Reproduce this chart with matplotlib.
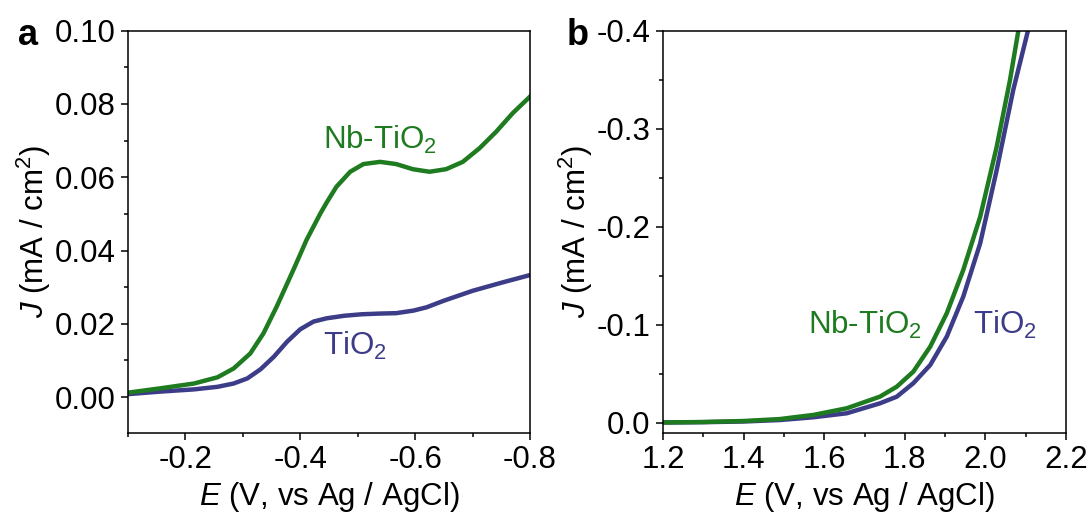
import matplotlib
matplotlib.use('Agg')
import matplotlib.pyplot as plt
from matplotlib.ticker import MultipleLocator, FormatStrFormatter

plt.rcParams['font.family'] = ['Liberation Sans', 'DejaVu Sans']
plt.rcParams['mathtext.fontset'] = 'custom'
plt.rcParams['mathtext.rm'] = 'Liberation Sans'
plt.rcParams['mathtext.it'] = 'Liberation Sans:italic'

GREEN = '#1e7b20'
NAVY = '#3c3c88'

# panel a: potential (V vs Ag/AgCl) and current density (mA/cm2)
a_E_nb = [-0.100, -0.157, -0.215, -0.256, -0.284, -0.313, -0.336, -0.359, -0.388,
          -0.411, -0.435, -0.446, -0.463, -0.487, -0.510, -0.539, -0.567, -0.596,
          -0.625, -0.654, -0.683, -0.712, -0.741, -0.770, -0.800]
a_J_nb = [0.0012, 0.0024, 0.0037, 0.0054, 0.0078, 0.0119, 0.0174, 0.0247, 0.0347,
          0.0429, 0.0501, 0.0531, 0.0574, 0.0615, 0.0636, 0.0642, 0.0636, 0.0622,
          0.0615, 0.0622, 0.0642, 0.0679, 0.0724, 0.0775, 0.0820]
a_E_ti = [-0.100, -0.157, -0.215, -0.256, -0.284, -0.308, -0.331, -0.354, -0.377,
          -0.400, -0.423, -0.446, -0.477, -0.507, -0.540, -0.567, -0.597, -0.620,
          -0.650, -0.700, -0.750, -0.800]
a_J_ti = [0.0008, 0.0015, 0.0021, 0.0028, 0.0037, 0.0051, 0.0076, 0.0110, 0.0151,
          0.0185, 0.0206, 0.0215, 0.0222, 0.0226, 0.0228, 0.0229, 0.0236, 0.0245,
          0.0263, 0.0290, 0.0312, 0.0333]

# panel b
b_E_nb = [1.200, 1.300, 1.400, 1.490, 1.573, 1.656, 1.738, 1.780, 1.821, 1.863,
          1.904, 1.945, 1.987, 2.028, 2.061, 2.082, 2.090]
b_J_nb = [-0.0005, -0.0010, -0.0020, -0.0040, -0.0082, -0.0150, -0.0268, -0.0370,
          -0.0523, -0.0778, -0.1118, -0.1560, -0.2103, -0.2817, -0.3497, -0.4007,
          -0.4200]
b_E_ti = [1.200, 1.300, 1.400, 1.490, 1.573, 1.656, 1.738, 1.780, 1.821, 1.863,
          1.904, 1.945, 1.987, 2.028, 2.069, 2.106, 2.114]
b_J_ti = [-0.0005, -0.0008, -0.0015, -0.0030, -0.0058, -0.0099, -0.0200, -0.0268,
          -0.0405, -0.0591, -0.0880, -0.1288, -0.1832, -0.2580, -0.3395, -0.4007,
          -0.4200]

FS = 22.5
LW = 3.2
fig = plt.figure(figsize=(10.88, 5.16), dpi=100)
ax1 = fig.add_axes([0.1176, 0.1609, 0.3695, 0.7796])
ax2 = fig.add_axes([0.6094, 0.1609, 0.3704, 0.7796])

ax1.plot(a_E_ti, a_J_ti, color=NAVY, lw=LW, solid_joinstyle='round')
ax1.plot(a_E_nb, a_J_nb, color=GREEN, lw=LW, solid_joinstyle='round')
ax1.set_xlim(-0.1, -0.8)
ax1.set_ylim(-0.0098, 0.10)
ax1.xaxis.set_major_locator(MultipleLocator(0.2))
ax1.xaxis.set_minor_locator(MultipleLocator(0.1))
ax1.yaxis.set_major_locator(MultipleLocator(0.02))
ax1.yaxis.set_minor_locator(MultipleLocator(0.01))
ax1.xaxis.set_major_formatter(FormatStrFormatter('%.1f'))
ax1.yaxis.set_major_formatter(FormatStrFormatter('%.2f'))
ax1.text(-0.44, 0.0677, 'Nb-TiO$_2$', color=GREEN, fontsize=FS, va='baseline')
ax1.text(-0.44, 0.0114, 'TiO$_2$', color=NAVY, fontsize=FS, va='baseline')

ax2.plot(b_E_ti, b_J_ti, color=NAVY, lw=LW, solid_joinstyle='round')
ax2.plot(b_E_nb, b_J_nb, color=GREEN, lw=LW, solid_joinstyle='round')
ax2.set_xlim(1.2, 2.2)
ax2.set_ylim(0.0102, -0.4)
ax2.xaxis.set_major_locator(MultipleLocator(0.2))
ax2.xaxis.set_minor_locator(MultipleLocator(0.1))
ax2.yaxis.set_major_locator(MultipleLocator(0.1))
ax2.yaxis.set_minor_locator(MultipleLocator(0.05))
ax2.xaxis.set_major_formatter(FormatStrFormatter('%.1f'))
ax2.yaxis.set_major_formatter(FormatStrFormatter('%.1f'))
ax2.text(1.56, -0.0907, 'Nb-TiO$_2$', color=GREEN, fontsize=FS, va='baseline')
ax2.text(1.97, -0.0907, 'TiO$_2$', color=NAVY, fontsize=FS, va='baseline')

for ax in (ax1, ax2):
    for s in ax.spines.values():
        s.set_linewidth(1.1)
    ax.tick_params(which='major', direction='out', length=5, width=1.1,
                   labelsize=FS, pad=4, top=False, right=False)
    ax.tick_params(which='minor', direction='out', length=3, width=1.1,
                   top=False, right=False)
    ax.set_xlabel('$E$ (V, vs Ag / AgCl)', fontsize=FS, labelpad=3)
    ax.set_ylabel('$J$ (mA / cm$^2$)', fontsize=FS, labelpad=1)

fig.text(0.017, 0.913, 'a', fontsize=26, fontweight='bold')
fig.text(0.521, 0.913, 'b', fontsize=26, fontweight='bold')

fig.savefig('out.png', dpi=100)
